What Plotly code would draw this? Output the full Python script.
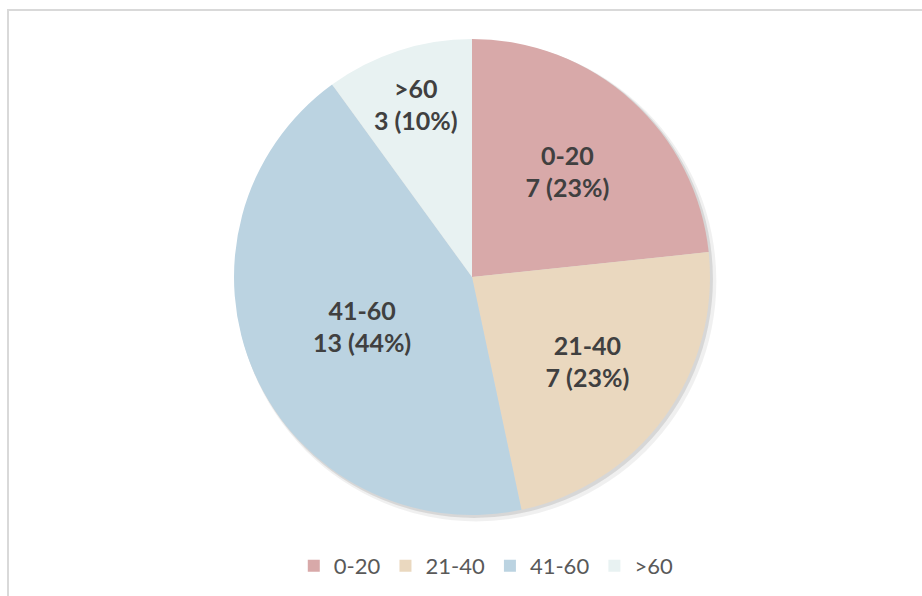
import plotly.graph_objects as go

categories = ["0-20", "21-40", "41-60", ">60"]
values = [7, 7, 13, 3]
percent_labels = ["23%", "23%", "44%", "10%"]
colors = ["#D8A9A9", "#EAD8BF", "#BBD3E1", "#E8F2F2"]

fig = go.Figure()
fig.add_trace(go.Pie(
    labels=categories,
    values=values,
    customdata=percent_labels,
    sort=False,
    direction="clockwise",
    rotation=0,
    marker=dict(colors=colors, line=dict(width=0)),
    texttemplate="<b>%{label}<br>%{value} (%{customdata})</b>",
    textposition="inside",
    insidetextorientation="horizontal",
    textfont=dict(family="Lato", size=25, color="#404040"),
    hoverinfo="label+value",
    showlegend=True,
))

shapes = [
    # soft shadow behind pie
    dict(type="circle", xref="paper", yref="paper", layer="below",
         x0=0.5 + 4/476 - 0.505, x1=0.5 + 4/476 + 0.505,
         y0=0.5 - 4/476 - 0.505, y1=0.5 - 4/476 + 0.505,
         fillcolor="rgba(0,0,0,0.06)", line=dict(width=0)),
    dict(type="circle", xref="paper", yref="paper", layer="below",
         x0=0.5 + 2/476 - 0.502, x1=0.5 + 2/476 + 0.502,
         y0=0.5 - 2/476 - 0.502, y1=0.5 - 2/476 + 0.502,
         fillcolor="rgba(0,0,0,0.10)", line=dict(width=0)),
    # chart border
    dict(type="rect", xref="paper", yref="paper", layer="below",
         x0=(8 - 234) / 476, x1=2.0, y0=-1.0, y1=1 + 29 / 476,
         line=dict(color="#D9D9D9", width=2), fillcolor="rgba(0,0,0,0)"),
]

fig.update_layout(
    width=922, height=596,
    margin=dict(l=234, r=212, t=39, b=81, autoexpand=False),
    paper_bgcolor="white",
    plot_bgcolor="white",
    shapes=shapes,
    legend=dict(
        orientation="h",
        x=0.53, xanchor="center",
        y=-0.107, yanchor="middle",
        font=dict(family="Lato", size=22, color="#595959"),
        traceorder="normal",
    ),
)

fig.write_html("out.html")
